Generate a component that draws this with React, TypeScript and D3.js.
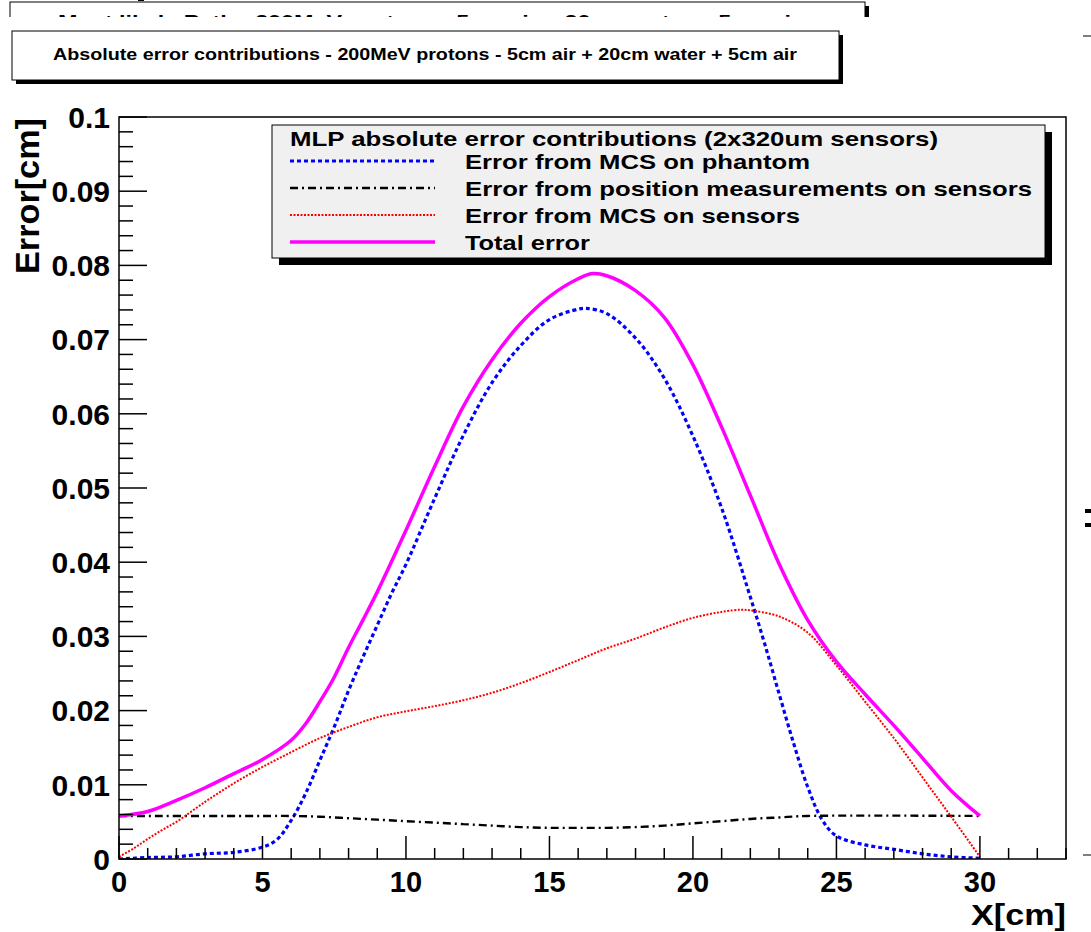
import React from 'react';
import * as d3 from 'd3';

// values (x in cm, error in cm)
const phantomX = [0, 1, 2, 3, 4, 5, 5.5, 6, 6.5, 7, 7.5, 8, 8.5, 9, 9.5, 10, 11, 12, 13, 14, 15, 16, 16.3, 17, 18, 19, 20, 21, 22, 22.5, 23, 23.5, 24, 24.5, 25, 26, 27, 28, 29, 30];
const phantomY = [0, 0.0002, 0.0003, 0.0007, 0.0009, 0.0016, 0.0026, 0.0052, 0.0088, 0.0133, 0.0178, 0.0227, 0.0272, 0.0315, 0.0358, 0.0397, 0.0486, 0.0571, 0.0642, 0.0692, 0.0727, 0.0741, 0.0742, 0.0735, 0.0702, 0.0648, 0.057, 0.0473, 0.0353, 0.029, 0.0223, 0.0157, 0.0097, 0.0053, 0.0031, 0.0019, 0.0013, 0.0007, 0.0003, 0.0001];

const posX = [0, 5, 6, 7, 8, 9, 10, 11, 12, 13, 14, 15, 16, 17, 18, 19, 20, 21, 22, 23, 24, 30];
const posY = [0.0058, 0.0058, 0.0058, 0.0057, 0.0055, 0.0053, 0.0051, 0.0049, 0.0047, 0.0045, 0.0043, 0.0042, 0.0042, 0.0042, 0.0043, 0.0045, 0.0048, 0.0051, 0.0054, 0.0056, 0.0058, 0.0058];

const sensorX = [0, 0.5, 1, 1.5, 2, 3, 4, 5, 6, 7, 8, 9, 10, 11, 12, 13, 14, 15, 16, 17, 18, 19, 20, 21, 21.7, 22, 23, 24, 25, 26, 27, 28, 29, 30];
const sensorY = [0.0003, 0.0014, 0.0027, 0.0039, 0.005, 0.0077, 0.0102, 0.0124, 0.0144, 0.0163, 0.0178, 0.0191, 0.0199, 0.0206, 0.0214, 0.0224, 0.0237, 0.0252, 0.0268, 0.0284, 0.0297, 0.0312, 0.0325, 0.0333, 0.0336, 0.0335, 0.0327, 0.0305, 0.0261, 0.0212, 0.0163, 0.011, 0.0057, 0.0003];

const totalX = [0, 1, 2, 3, 4, 5, 6, 6.5, 7, 7.5, 8, 8.5, 9, 10, 11, 12, 13, 14, 15, 16, 16.5, 17, 18, 19, 20, 21, 22, 23, 24, 25, 26, 27, 28, 29, 30];
const totalY = [0.0058, 0.0064, 0.0079, 0.0096, 0.0115, 0.0134, 0.016, 0.0182, 0.0212, 0.0245, 0.0285, 0.0322, 0.036, 0.0443, 0.0529, 0.061, 0.0673, 0.0722, 0.0758, 0.0782, 0.0789, 0.0786, 0.0766, 0.073, 0.0666, 0.0582, 0.049, 0.0398, 0.0322, 0.0266, 0.0222, 0.018, 0.0136, 0.0092, 0.0058];

const yTicks = [0, 0.01, 0.02, 0.03, 0.04, 0.05, 0.06, 0.07, 0.08, 0.09, 0.1];
const yTickLabels = ['0', '0.01', '0.02', '0.03', '0.04', '0.05', '0.06', '0.07', '0.08', '0.09', '0.1'];
const xTicks = [0, 5, 10, 15, 20, 25, 30];

const legendTitle = 'MLP absolute error contributions (2x320um sensors)';
const legendLabels = ['Error from MCS on phantom', 'Error from position measurements on sensors', 'Error from MCS on sensors', 'Total error'];
const topTitle = 'Most likely Path - 200MeV protons - 5cm air + 20cm water + 5cm air';
const mainTitle = 'Absolute error contributions - 200MeV protons - 5cm air + 20cm water + 5cm air';

const series = [
  { xs: phantomX, ys: phantomY, color: '#0000ff', width: 3.2, dash: '4,3' },
  { xs: posX, ys: posY, color: '#000000', width: 2.4, dash: '8,4,2,4' },
  { xs: sensorX, ys: sensorY, color: '#ff0000', width: 2, dash: '2,1.5' },
  { xs: totalX, ys: totalY, color: '#ff00ff', width: 3.5, dash: '' },
];

const FONT = "'Liberation Sans', Arial, Helvetica, sans-serif";

export default function App() {
  const W = 1091, H = 932;
  const left = 119, right = 1066, top = 117, bottom = 859;

  const x = d3.scaleLinear().domain([0, 33]).range([left, right]);
  const y = d3.scaleLinear().domain([0, 0.1]).range([bottom, top]);

  const line = d3.line<[number, number]>()
    .x(d => x(d[0]))
    .y(d => y(d[1]))
    .curve(d3.curveCatmullRom);

  const yMinor = d3.range(0, 0.1001, 0.002);
  const xMinor = d3.range(0, 34, 1);

  const legRows = [161, 188, 215, 242];
  const legWidths = [345, 567, 335, 125];

  return (
    <svg width={W} height={H} style={{ position: 'absolute', left: 0, top: 0, background: '#fff' }} fontFamily={FONT}>
      <defs>
        <clipPath id="topStrip"><rect x={0} y={0} width={W} height={17} /></clipPath>
        <clipPath id="frameClip"><rect x={left} y={top} width={right - left} height={bottom - top} /></clipPath>
      </defs>
      <rect x={0} y={0} width={W} height={H} fill="#fff" />

      {/* top title box, mostly hidden */}
      <g clipPath="url(#topStrip)">
        <rect x={138} y={-2} width={6} height={3} fill="#000" />
        <rect x={14} y={6} width={855} height={40} fill="#000" />
        <rect x={10} y={2} width={855} height={40} fill="#fff" stroke="#000" strokeWidth={1} />
        <text x={429} y={27} textAnchor="middle" fontWeight="bold" fontSize={17} textLength={742} lengthAdjust="spacingAndGlyphs">{topTitle}</text>
      </g>

      {/* main title box */}
      <rect x={16} y={35} width={827} height={49} fill="#000" />
      <rect x={12} y={31} width={827} height={49} fill="#fff" stroke="#000" strokeWidth={1} />
      <text x={425} y={60} textAnchor="middle" fontWeight="bold" fontSize={17} textLength={744} lengthAdjust="spacingAndGlyphs">{mainTitle}</text>

      {/* curves */}
      <g clipPath="url(#frameClip)" fill="none">
        {series.map((s, i) => (
          <path key={i} d={line(s.xs.map((v, j) => [v, s.ys[j]] as [number, number])) || ''}
            stroke={s.color} strokeWidth={s.width} strokeDasharray={s.dash || undefined} />
        ))}
      </g>

      {/* frame */}
      <rect x={left} y={top} width={right - left} height={bottom - top} fill="none" stroke="#000" strokeWidth={1.5} />

      {/* y ticks */}
      {yMinor.map((v, i) => {
        const major = i % 5 === 0;
        return <line key={'ym' + i} x1={left} x2={left + (major ? 28 : 14)} y1={y(v)} y2={y(v)} stroke="#000" strokeWidth={1.5} />;
      })}
      {yTicks.map((v, i) => (
        <text key={'yl' + i} x={110} y={y(v)} dy="0.36em" textAnchor="end" fontWeight="bold" fontSize={30}>{yTickLabels[i]}</text>
      ))}

      {/* x ticks */}
      {xMinor.map((v, i) => {
        const major = v % 5 === 0;
        return <line key={'xm' + i} x1={x(v)} x2={x(v)} y1={bottom} y2={bottom - (major ? 23 : 11)} stroke="#000" strokeWidth={1.5} />;
      })}
      {xTicks.map((v, i) => (
        <text key={'xl' + i} x={x(v)} y={892} textAnchor="middle" fontWeight="bold" fontSize={29}>{v}</text>
      ))}

      {/* axis titles */}
      <text x={1066} y={925} textAnchor="end" fontWeight="bold" fontSize={29} textLength={95} lengthAdjust="spacingAndGlyphs">X[cm]</text>
      <text transform="translate(39,118) rotate(-90)" textAnchor="end" fontWeight="bold" fontSize={33} textLength={156} lengthAdjust="spacingAndGlyphs">Error[cm]</text>

      {/* legend */}
      <rect x={279} y={132} width={773} height={133} fill="#000" />
      <rect x={272} y={125} width={773} height={133} fill="#f0f0f0" stroke="#000" strokeWidth={1} />
      <text x={290} y={146} fontWeight="bold" fontSize={21} textLength={648} lengthAdjust="spacingAndGlyphs">{legendTitle}</text>
      {legendLabels.map((lab, i) => {
        const s = series[i];
        const cy = legRows[i];
        return (
          <g key={'lg' + i}>
            <line x1={290} x2={435} y1={cy} y2={cy} stroke={s.color} strokeWidth={s.width}
              strokeDasharray={s.dash || undefined} />
            <text x={465} y={cy} dy="0.36em" fontWeight="bold" fontSize={21} textLength={legWidths[i]} lengthAdjust="spacingAndGlyphs">{lab}</text>
          </g>
        );
      })}

      {/* fragments of the neighbouring pad at the right edge */}
      <line x1={1083} x2={1091} y1={36} y2={36} stroke="#000" strokeWidth={1} />
      <rect x={1085} y={509} width={6} height={4} fill="#000" />
      <rect x={1085} y={523} width={6} height={4} fill="#000" />
      <line x1={1083} x2={1091} y1={855} y2={855} stroke="#000" strokeWidth={1} />
    </svg>
  );
}
